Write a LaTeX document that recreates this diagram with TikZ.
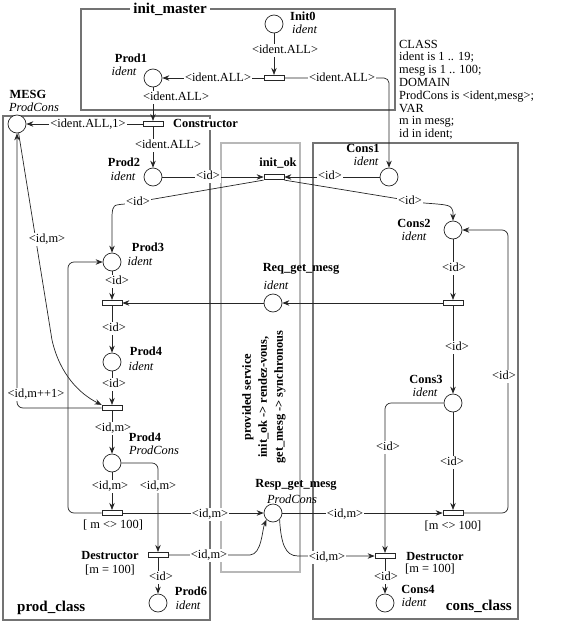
\documentclass[tikz,border=0pt]{standalone}
\usepackage{fontspec}
\setmainfont{Liberation Serif}
\usetikzlibrary{arrows.meta}
\begin{document}
\begin{tikzpicture}[x=1pt,y=-1pt,
  font=\fontsize{12.4}{13}\selectfont,
  arc/.style={draw=black!85, line width=0.7pt, -{Stealth[length=7pt,width=5.5pt]}},
  place/.style={circle, draw=black!85, line width=0.7pt, fill=white, minimum size=18pt, inner sep=0pt},
  trans/.style={rectangle, draw=black!85, line width=0.7pt, fill=white, minimum width=20pt, minimum height=5.5pt, inner sep=0pt},
  lab/.style={fill=white, inner sep=1pt, text height=8.5pt, text depth=2.5pt},
  nm/.style={font=\fontsize{12.4}{13}\selectfont\bfseries, inner sep=0pt, text height=8.5pt, text depth=2.5pt},
  ty/.style={font=\fontsize{12.4}{13}\selectfont\itshape, inner sep=0pt, text height=8.5pt, text depth=2.5pt},
  decl/.style={anchor=base west, inner sep=0pt},
  box/.style={draw=black!55, line width=1.2pt},
  svc/.style={draw=black!28, line width=1.2pt},
  titl/.style={font=\fontsize{15}{16}\selectfont\bfseries, inner sep=0pt, text height=10pt, text depth=3pt}
]
\useasboundingbox (0,0) rectangle (570,624);

% boxes
\draw[box] (81,9) rectangle (395,110);
\node[titl, fill=white, inner xsep=3pt] (tim) at (170,10) {init\_master};
\draw[box] (3,116) rectangle (210,620);
\draw[box] (313,143) rectangle (518,619);
\draw[svc] (221,143) rectangle (300,572);
\node[titl, anchor=west] (tpc) at (17,608) {prod\_class};
\node[titl, anchor=east] (tcc) at (512,607) {cons\_class};

% places and transitions
\node[place] (init0) at (274,24) {};
\node[trans] (t0) at (274,78) {};
\node[place] (prod1) at (153,78) {};
\node[trans] (cstr) at (153,124) {};
\node[place] (mesg) at (17,124) {};
\node[place] (prod2) at (153,177) {};
\node[trans] (initok) at (274,177) {};
\node[place] (cons1) at (389,177) {};
\node[place] (prod3) at (112,262) {};
\node[trans] (tp3) at (112,303) {};
\node[place] (req) at (273,303) {};
\node[place] (cons2) at (453,230) {};
\node[trans] (tc2) at (453,303) {};
\node[place] (prod4) at (112,362) {};
\node[trans] (tp4) at (112,408) {};
\node[place] (prod4pc) at (112,463) {};
\node[trans] (tp5) at (112,513) {};
\node[trans] (dp) at (158,555) {};
\node[place] (prod6) at (158,603) {};
\node[place] (resp) at (273,513) {};
\node[place] (cons3) at (453,403) {};
\node[trans] (tc3) at (453,513) {};
\node[trans] (dc) at (385,556) {};
\node[place] (cons4) at (385,603) {};

% arcs of init_master
\draw[arc] (init0) -- (t0);
\draw[arc] (t0) -- (prod1);
\draw[arc, rounded corners=5pt] (t0.east) -- (389,78) -- (cons1.north);
\draw[arc] (prod1) -- (cstr);
\draw[arc] (cstr) -- (mesg);
\draw[arc] (cstr) -- (prod2);
\draw[arc] (prod2) -- (initok);
\draw[arc] (cons1) -- (initok);
\draw[arc] (initok.south west) -- (125,204) .. controls (113,205) .. (112,215) -- (prod3.north);
\draw[arc] (initok.south east) -- (424,203) .. controls (451,205) .. (453,212) -- (cons2.north);
\draw[arc] (tc2) -- (req);
\draw[arc] (req) -- (tp3);

% producer
\draw[arc] (prod3) -- (tp3);
\draw[arc] (tp3) -- (prod4);
\draw[arc] (prod4) -- (tp4);
\draw[arc] (tp4) -- (prod4pc);
\draw[arc] (prod4pc) -- (tp5);
\draw[arc, rounded corners=6pt] (prod4pc.east) -- (158,463) -- (dp.north);
\draw[arc] (dp) -- (prod6);
\draw[arc, rounded corners=6pt] (tp5.west) -- (68,513) -- (68,262) -- (prod3.west);
\draw[arc, rounded corners=6pt] (tp4.west) -- (17,408) -- (mesg.south);
\draw[arc] (mesg.-80) -- (52,340) .. controls (60,375) and (80,394) .. (tp4.north west);

% to response
\draw[arc] (tp5) -- (resp);
\draw[arc] (dp.east) -- (250,555) .. controls (262,554) and (262,530) .. (resp.south west);
\draw[arc] (resp) -- (tc3);
\draw[arc] (resp.south east) .. controls (281,543) and (285,556) .. (298,556) -- (dc.west);

% consumer
\draw[arc] (cons2) -- (tc2);
\draw[arc] (tc2) -- (cons3);
\draw[arc] (cons3) -- (tc3);
\draw[arc, rounded corners=6pt] (cons3.west) -- (385,403) -- (dc.north);
\draw[arc, rounded corners=6pt] (tc3.east) -- (508,513) -- (508,230) -- (cons2.east);
\draw[arc] (dc) -- (cons4);

% arc labels
\node[lab] (l1) at (285,50) {<ident.ALL>};
\node[lab] (l2) at (218,78) {<ident.ALL>};
\node[lab] (l3) at (342,78) {<ident.ALL>};
\node[lab] (l4) at (176,97) {<ident.ALL>};
\node[lab] (l5) at (88,124) {<ident.ALL,1>};
\node[lab] (l6) at (168,145) {<ident.ALL>};
\node[lab] (l7) at (208,176) {<id>};
\node[lab] (l8) at (330,176) {<id>};
\node[lab] (l9) at (138,202) {<id>};
\node[lab] (l10) at (410,201) {<id>};
\node[lab] (l11) at (117,281) {<id>};
\node[lab] (l12) at (114,328) {<id>};
\node[lab] (l13) at (114,384) {<id>};
\node[lab] (l14) at (113,428) {<id,m>};
\node[lab] (l15) at (110,486) {<id,m>};
\node[lab] (l16) at (158,486) {<id,m>};
\node[lab] (l17) at (161,577) {<id>};
\node[lab] (l18) at (47,239) {<id,m>};
\node[lab] (l19) at (36,394) {<id,m++1>};
\node[lab] (l20) at (210,514) {<id,m>};
\node[lab] (l21) at (209,555) {<id,m>};
\node[lab] (l22) at (345,514) {<id,m>};
\node[lab] (l23) at (327,557) {<id,m>};
\node[lab] (l24) at (454,268) {<id>};
\node[lab] (l25) at (457,347) {<id>};
\node[lab] (l26) at (452,462) {<id>};
\node[lab] (l27) at (388,447) {<id>};
\node[lab] (l28) at (504,376) {<id>};
\node[lab] (l29) at (386,577) {<id>};

% node names and types
\node[nm] (n1) at (28,95) {MESG};
\node[ty] (y1) at (34,108) {ProdCons};
\node[nm] (n2) at (131,59) {Prod1};
\node[ty] (y2) at (124,72) {ident};
\node[nm, anchor=west] (n3) at (290,17) {Init0};
\node[ty, anchor=west] (y3) at (292,30) {ident};
\node[nm, fill=white, anchor=west, inner xsep=1pt] (n4) at (172,124) {Constructor};
\node[nm] (n5) at (124,163) {Prod2};
\node[ty] (y5) at (123,177) {ident};
\node[nm] (n6) at (278,163) {init\_ok};
\node[nm] (n7) at (363,149) {Cons1};
\node[ty] (y7) at (366,162) {ident};
\node[nm] (n8) at (414,224) {Cons2};
\node[ty] (y8) at (414,237) {ident};
\node[nm] (n9) at (148,248) {Prod3};
\node[ty] (y9) at (140,262) {ident};
\node[nm] (n10) at (301,268) {Req\_get\_mesg};
\node[ty] (y10) at (276,286) {ident};
\node[nm] (n11) at (146,352) {Prod4};
\node[ty] (y11) at (141,367) {ident};
\node[nm] (n12) at (145,438) {Prod4};
\node[ty] (y12) at (154,451) {ProdCons};
\node[nm] (n13) at (426,380) {Cons3};
\node[ty] (y13) at (425,393) {ident};
\node[nm] (n14) at (296,484) {Resp\_get\_mesg};
\node[ty] (y14) at (292,500) {ProdCons};
\node[inner sep=0pt] (g1) at (113,525) {[ m <> 100]};
\node[nm] (n15) at (110,556) {Destructor};
\node[inner sep=0pt] (g2) at (110,570) {[m = 100]};
\node[nm] (n16) at (191,592) {Prod6};
\node[ty] (y16) at (188,606) {ident};
\node[inner sep=0pt] (g3) at (453,526) {[m <> 100]};
\node[nm] (n17) at (435,557) {Destructor};
\node[inner sep=0pt] (g4) at (430,569) {[m = 100]};
\node[nm] (n18) at (418,590) {Cons4};
\node[ty] (y18) at (414,603) {ident};

% service description
\node[rotate=90, align=center, inner sep=0pt, font=\fontsize{12.4}{16}\selectfont\bfseries] (svct) at (264,397)
  {provided service\\init\_ok -> rendez-vous,\\get\_mesg -> synchronous};

% declarations
\node[decl] (d1) at (399,48) {CLASS};
\node[decl] (d2) at (399,60.8) {ident is 1 .. 19;};
\node[decl] (d3) at (399,73.6) {mesg is 1 .. 100;};
\node[decl] (d4) at (399,86.4) {DOMAIN};
\node[decl] (d5) at (399,99.2) {ProdCons is <ident,mesg>;};
\node[decl] (d6) at (399,112) {VAR};
\node[decl] (d7) at (399,124.8) {m in mesg;};
\node[decl] (d8) at (399,137.6) {id in ident;};
\end{tikzpicture}
\end{document}
